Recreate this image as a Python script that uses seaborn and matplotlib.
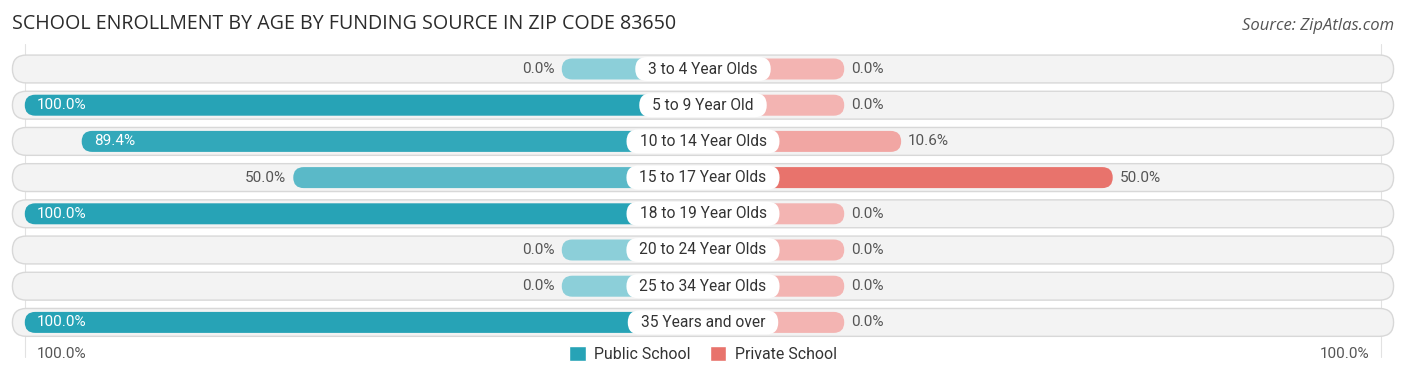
import matplotlib
matplotlib.use("Agg")
import matplotlib.pyplot as plt
import numpy as np
import pandas as pd
import seaborn as sns
from matplotlib.patches import FancyBboxPatch, Patch
from matplotlib.colors import to_rgb

# data
ages = ["3 to 4 Year Olds", "5 to 9 Year Old", "10 to 14 Year Olds", "15 to 17 Year Olds",
        "18 to 19 Year Olds", "20 to 24 Year Olds", "25 to 34 Year Olds", "35 Years and over"]
public = [0.0, 100.0, 89.4, 50.0, 100.0, 0.0, 0.0, 100.0]
private = [0.0, 0.0, 10.6, 50.0, 0.0, 0.0, 0.0, 0.0]
series = ["Public School", "Private School"]

# style constants
W, H = 1406, 378
PX_X = 5.37          # pixels per percent unit
PX_Y = 36.2          # pixels per row
CX, ROW0 = 703, 69   # centre pixel and first row pixel
STUB = 26.3          # minimum bar length (percent units)
BAR_H = 0.58
BG_H = 0.77
BG_HALF = 128.6
PUB_DARK, PUB_LIGHT = "#27a3b6", "#8ccfd9"
PRI_DARK, PRI_LIGHT = "#e8736c", "#f3b4b2"
ASPECT = PX_X / PX_Y


def shade(light, dark, t):
    a, b = np.array(to_rgb(light)), np.array(to_rgb(dark))
    return tuple(a + (b - a) * t)


def pill(ax, left, right, yc, h, **kw):
    r = h / ASPECT / 2
    p = FancyBboxPatch((left, yc - h / 2), right - left, h,
                       boxstyle=f"round,pad=0,rounding_size={r}",
                       mutation_aspect=ASPECT, **kw)
    ax.add_patch(p)
    return p


def main():
    sns.set_theme(style="white")
    plt.rcParams["font.family"] = ["Roboto", "DejaVu Sans"]

    df = pd.DataFrame({
        "age": ages * 2,
        "school": [series[0]] * len(ages) + [series[1]] * len(ages),
        "value": public + private,
    })
    df["signed"] = np.where(df["school"] == series[0], -(df["value"] + STUB), df["value"] + STUB)

    fig = plt.figure(figsize=(W / 100, H / 100), dpi=100)
    ax = fig.add_axes([0, 0, 1, 1])
    sns.barplot(data=df, y="age", x="signed", hue="school", dodge=False, width=BAR_H,
                palette=[PUB_DARK, PRI_DARK], legend=False, ax=ax, orient="h")
    ax.set_xlim(-CX / PX_X, (W - CX) / PX_X)
    ax.set_ylim((H - ROW0) / PX_Y, -ROW0 / PX_Y)
    ax.axis("off")

    # colour intensity relative to each series' max
    pub_max, pri_max = max(public), max(private)

    # replace the plain rectangles with rounded pills
    bars = list(ax.patches)
    for bar in bars:
        x0, w = bar.get_x(), bar.get_width()
        left, right = min(x0, x0 + w), max(x0, x0 + w)
        yc = bar.get_y() + bar.get_height() / 2
        i = int(round(yc))
        if right <= 0.001:
            col = shade(PUB_LIGHT, PUB_DARK, public[i] / pub_max)
        else:
            col = shade(PRI_LIGHT, PRI_DARK, private[i] / pri_max)
        pill(ax, left, right, yc, bar.get_height(), facecolor=col, edgecolor="none", zorder=3)
        bar.remove()

    for i in range(len(ages)):
        pill(ax, -BG_HALF, BG_HALF, i, BG_H, facecolor="#f3f3f3", edgecolor="#d8d8d8",
             linewidth=1.0, zorder=1)

    for xv in (-(100 + STUB), 100 + STUB):
        ax.plot([xv, xv], [-0.7, 7.95], color="#e2e2e2", lw=0.8, zorder=0)

    # category labels in white pills
    fig.canvas.draw()
    renderer = fig.canvas.get_renderer()
    for i, lab in enumerate(ages):
        t = ax.text(0, i, lab, ha="center", va="center", fontsize=11.2, color="#333333", zorder=6)
        bb = t.get_window_extent(renderer).transformed(ax.transData.inverted())
        padx = 13 / PX_X
        pill(ax, bb.x0 - padx, bb.x1 + padx, i, 24 / PX_Y, facecolor="white",
             edgecolor="none", zorder=5)

    # value labels
    for i in range(len(ages)):
        pv, rv = public[i], private[i]
        pend = -(pv + STUB)
        if pv >= 60:
            ax.text(pend + 12 / PX_X, i, f"{pv:.1f}%", ha="left", va="center",
                    fontsize=11, color="white", zorder=6)
        else:
            ax.text(pend - 7 / PX_X, i, f"{pv:.1f}%", ha="right", va="center",
                    fontsize=11, color="#555555", zorder=6)
        ax.text(rv + STUB + 7 / PX_X, i, f"{rv:.1f}%", ha="left", va="center",
                fontsize=11, color="#555555", zorder=6)

    # title and source
    fig.text(12 / W, 1 - 24 / H, "SCHOOL ENROLLMENT BY AGE BY FUNDING SOURCE IN ZIP CODE 83650",
             ha="left", va="center", fontsize=14.1, color="#2b2b2b", family=["Open Sans", "DejaVu Sans"])
    fig.text(1394 / W, 1 - 26 / H, "Source: ZipAtlas.com", ha="right", va="center",
             fontsize=12, color="#555555", style="italic", family=["Open Sans", "DejaVu Sans"])

    # bottom axis labels and legend
    ybot = 1 - 354 / H
    fig.text(37 / W, ybot, "100.0%", ha="left", va="center", fontsize=11, color="#555555")
    fig.text(1369 / W, ybot, "100.0%", ha="right", va="center", fontsize=11, color="#555555")
    handles = [Patch(facecolor=PUB_DARK, label=series[0]), Patch(facecolor=PRI_DARK, label=series[1])]
    fig.legend(handles=handles, loc="center", bbox_to_anchor=(0.5, ybot), ncol=2, frameon=False,
               fontsize=11.4, handlelength=1.05, handleheight=1.05, handletextpad=0.55,
               columnspacing=1.2, labelcolor="#333333")

    fig.savefig("out.png", dpi=100)


if __name__ == "__main__":
    main()
